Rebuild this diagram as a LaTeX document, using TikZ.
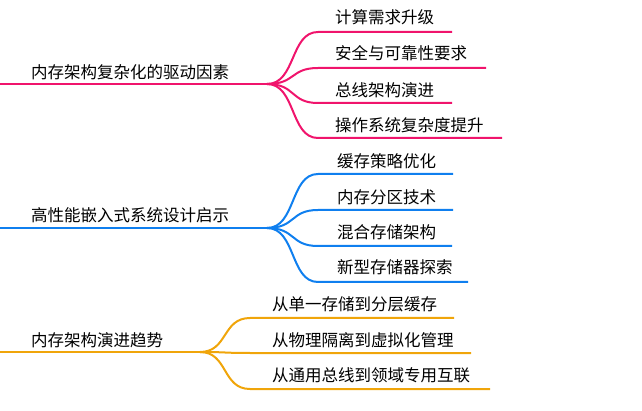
\documentclass[tikz,border=0pt]{standalone}
\usepackage{fontspec}
\setmainfont{Noto Sans CJK SC}
\definecolor{drivecol}{HTML}{F0146C}
\definecolor{designcol}{HTML}{0F7FEF}
\definecolor{trendcol}{HTML}{F0A50A}
\tikzset{
  branch/.style={line width=2pt},
  topic/.style={anchor=west,inner sep=0pt,font=\fontsize{16.5}{18}\selectfont},
  leaf/.style={anchor=west,inner sep=0pt,font=\fontsize{16.5}{18}\selectfont}
}

\begin{document}
\begin{tikzpicture}[x=1pt,y=-1pt]
\useasboundingbox (0,0) rectangle (642,411);
% drive
\coordinate (d-in) at (0,84);
\coordinate (d-fork) at (267,84);
\node[topic] (drive) at (31,72) {内存架构复杂化的驱动因素};
\draw[branch,drivecol] (d-in) -- (d-fork);
\foreach \i/\ly/\lx/\ty/\txt in {1/32/452/17/计算需求升级, 2/68/486/53/安全与可靠性要求, 3/103/452/90/总线架构演进, 4/138/502/125/操作系统复杂度提升} {
  \node[leaf] (d\i) at (335,\ty) {\txt};
  \coordinate (d\i-s) at (318,\ly);
  \coordinate (d\i-e) at (\lx,\ly);
  \draw[branch,drivecol] (d-fork) .. controls (296,84) and (290,\ly) .. (d\i-s) -- (d\i-e);
}
% design
\coordinate (g-in) at (0,228);
\coordinate (g-fork) at (267,228);
\node[topic] (design) at (31,215) {高性能嵌入式系统设计启示};
\draw[branch,designcol] (g-in) -- (g-fork);
\foreach \i/\ly/\lx/\ty/\txt in {1/174/453/161/缓存策略优化, 2/210/453/197/内存分区技术, 3/246/452/232/混合存储架构, 4/282/468/267/新型存储器探索} {
  \node[leaf] (g\i) at (337,\ty) {\txt};
  \coordinate (g\i-s) at (318,\ly);
  \coordinate (g\i-e) at (\lx,\ly);
  \draw[branch,designcol] (g-fork) .. controls (296,228) and (290,\ly) .. (g\i-s) -- (g\i-e);
}
% trend
\coordinate (t-in) at (0,352);
\coordinate (t-fork) at (200,352);
\node[topic] (trend) at (31,340) {内存架构演进趋势};
\draw[branch,trendcol] (t-in) -- (t-fork);
\foreach \i/\ly/\lx/\ty/\txt in {1/318/454/304/从单一存储到分层缓存, 2/353/471/340/从物理隔离到虚拟化管理, 3/389/490/375/从通用总线到领域专用互联} {
  \node[leaf] (t\i) at (272,\ty) {\txt};
  \coordinate (t\i-s) at (250,\ly);
  \coordinate (t\i-e) at (\lx,\ly);
  \draw[branch,trendcol] (t-fork) .. controls (228,352) and (222,\ly) .. (t\i-s) -- (t\i-e);
}
\end{tikzpicture}
\end{document}
